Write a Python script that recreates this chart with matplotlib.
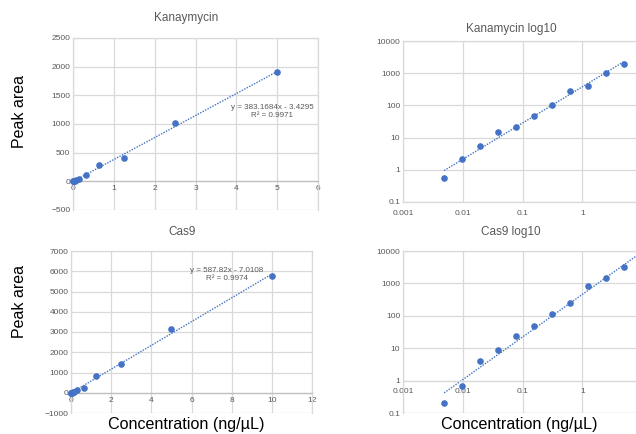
import numpy as np
import matplotlib
matplotlib.use("Agg")
import matplotlib.pyplot as plt
from matplotlib.ticker import FixedLocator, FixedFormatter

plt.rcParams['font.family'] = ['Liberation Sans', 'DejaVu Sans']

# Data
kana_conc = [5, 2.5, 1.25, 0.625, 0.3125, 0.15625, 0.078125, 0.0390625, 0.01953125, 0.009765625, 0.0048828125]
kana_area = [1900, 1010, 405, 290, 105, 47, 21, 14.5, 5.6, 2.2, 0.55]
cas9_conc = [10, 5, 2.5, 1.25, 0.625, 0.3125, 0.15625, 0.078125, 0.0390625, 0.01953125, 0.009765625, 0.0048828125]
cas9_area = [5750, 3150, 1420, 850, 257, 115, 48, 24, 8.7, 3.9, 0.68, 0.21]

titles = ["Kanaymycin", "Kanamycin log10", "Cas9", "Cas9 log10"]
kana_eq = ["y = 383.1684x - 3.4295", "R\u00b2 = 0.9971"]
cas9_eq = ["y = 587.82x - 7.0108", "R\u00b2 = 0.9974"]
ylabel = "Peak area"
xlabel = "Concentration (ng/\u00b5L)"

BLUE = "#4472C4"
GRID = "#d9d9d9"
TICK = "#595959"
W, H = 636, 434

fig = plt.figure(figsize=(W / 100, H / 100), dpi=100)


def add_ax(l, r, t, b):
    return fig.add_axes([l / W, 1 - b / H, (r - l) / W, (b - t) / H])


def style(ax):
    ax.grid(True, color=GRID, linewidth=0.9)
    ax.set_axisbelow(True)
    for s in ax.spines.values():
        s.set_color(GRID)
        s.set_linewidth(0.9)
    ax.tick_params(length=0, labelsize=6, labelcolor=TICK, pad=2)


def lin_panel(ax, x, y, xmax, xstep, ymin, ymax, ystep, eq, eqpos):
    x = np.array(x, float)
    y = np.array(y, float)
    style(ax)
    ax.set_xlim(0, xmax)
    ax.set_ylim(ymin, ymax)
    ax.set_xticks(np.arange(0, xmax + xstep / 2, xstep))
    ax.set_yticks(np.arange(ymin, ymax + ystep / 2, ystep))
    ax.spines['bottom'].set_position(('data', 0))
    ax.spines['bottom'].set_color("#bfbfbf")
    ax.tick_params(axis='x', pad=3)
    m, c = np.polyfit(x, y, 1)
    xx = np.array([0, x.max()])
    ax.plot(xx, m * xx + c, linestyle=(0, (1, 1)), color=BLUE, linewidth=1.0)
    ax.scatter(x, y, s=14, color=BLUE, zorder=3, clip_on=False)
    ax.text(eqpos[0], eqpos[1], eq[0] + "\n" + eq[1], transform=ax.transAxes,
            ha='center', va='center', fontsize=5.8, color=TICK, linespacing=1.3)


def log_panel(ax, x, y, cross):
    x = np.array(x, float)
    y = np.array(y, float)
    style(ax)
    ax.set_xscale('log')
    ax.set_yscale('log')
    ax.set_xlim(0.001, 10)
    ax.set_ylim(0.1, 10000)
    xt = [0.001, 0.01, 0.1, 1, 10]
    yt = [0.1, 1, 10, 100, 1000, 10000]
    ax.xaxis.set_major_locator(FixedLocator(xt))
    ax.xaxis.set_major_formatter(FixedFormatter(["0.001", "0.01", "0.1", "1", ""]))
    ax.xaxis.set_minor_locator(FixedLocator([]))
    ax.yaxis.set_major_locator(FixedLocator(yt))
    ax.yaxis.set_major_formatter(FixedFormatter(["0.1", "1", "10", "100", "1000", "10000"]))
    ax.yaxis.set_minor_locator(FixedLocator([]))
    ax.tick_params(axis='x', pad=6)
    if cross != 0.1:
        ax.spines['bottom'].set_position(('data', cross))
        ax.tick_params(axis='x', pad=5)
        ax.axhline(0.1, color=GRID, linewidth=0.9, zorder=0)
    b, a = np.polyfit(np.log10(x), np.log10(y), 1)
    xx = np.array([x.min(), x.max()])
    ax.plot(xx, 10 ** (a + b * np.log10(xx)), linestyle=(0, (1, 1)), color=BLUE, linewidth=1.0)
    ax.scatter(x, y, s=14, color=BLUE, zorder=3)


ax1 = add_ax(73, 318, 38, 210)
lin_panel(ax1, kana_conc, kana_area, 6, 1, -500, 2500, 500, kana_eq, (0.814, 0.573))
ax2 = add_ax(403, 642, 41, 202)
log_panel(ax2, kana_conc, kana_area, 0.1)
ax3 = add_ax(71, 312, 251, 413)
lin_panel(ax3, cas9_conc, cas9_area, 12, 2, -1000, 7000, 1000, cas9_eq, (0.647, 0.855))
ax4 = add_ax(403, 642, 251, 413)
log_panel(ax4, cas9_conc, cas9_area, 1)

tcol = "#595959"
fig.text(186 / W, 1 - 18 / H, titles[0], ha='center', va='center', fontsize=8.5, color=tcol)
fig.text(511 / W, 1 - 29 / H, titles[1], ha='center', va='center', fontsize=8.5, color=tcol)
fig.text(182 / W, 1 - 232 / H, titles[2], ha='center', va='center', fontsize=8.5, color=tcol)
fig.text(511 / W, 1 - 232 / H, titles[3], ha='center', va='center', fontsize=8.5, color=tcol)

fig.text(20 / W, 1 - 112 / H, ylabel, rotation=90, ha='center', va='center', fontsize=11.5, color='black')
fig.text(20 / W, 1 - 302 / H, ylabel, rotation=90, ha='center', va='center', fontsize=11.5, color='black')
fig.text(186 / W, 1 - 425 / H, xlabel, ha='center', va='center', fontsize=11.6, color='black')
fig.text(519 / W, 1 - 425 / H, xlabel, ha='center', va='center', fontsize=11.6, color='black')

fig.savefig("out.png", dpi=100, facecolor='white')
